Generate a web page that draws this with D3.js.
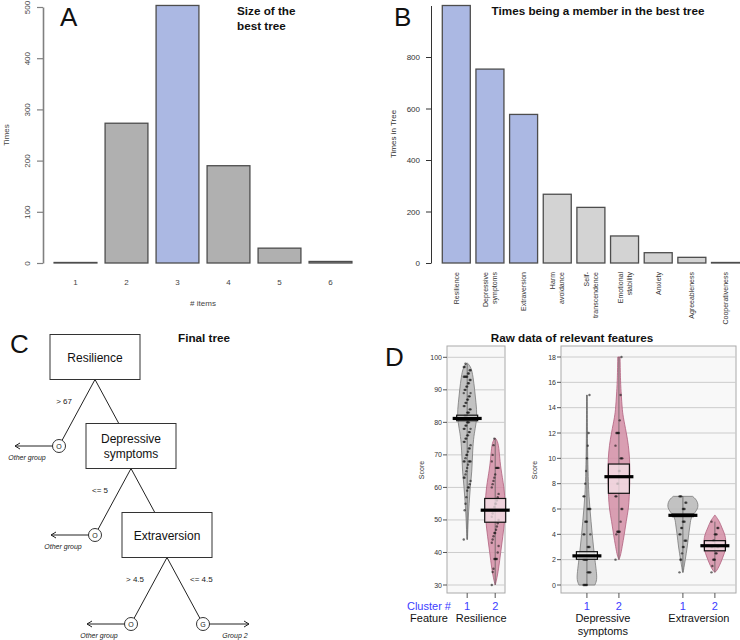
<!DOCTYPE html>
<html><head><meta charset="utf-8">
<script src="https://cdn.jsdelivr.net/npm/d3@7"></script>
<style>body{margin:0;background:#fff}svg{display:block;font-family:"Liberation Sans",Arial,sans-serif}</style>
</head><body><svg id="c" width="740" height="640"></svg>
<script>
// ---------- DATA ----------
// Panel A
const sizeItems = ["1","2","3","4","5","6"];
const sizeTimes = [1, 273, 503, 190, 29, 3];
const sizeBest = "3";
const sizeTicks = [0, 100, 200, 300, 400, 500];
// Panel B
const featLabels = [["Resilience"],["Depressive","symptoms"],["Extraversion"],["Harm","avoidance"],["Self-","transcendence"],["Emotional","stability"],["Anxiety"],["Agreeableness"],["Cooperativeness"]];
const featTimes = [1000, 753, 577, 267, 216, 105, 40, 22, 2];
const featSelected = [true, true, true, false, false, false, false, false, false];
const featTicks = [0, 200, 400, 600, 800];
// Panel C
const treeNodes = [["Resilience"],["Depressive","symptoms"],["Extraversion"]];
const treeLeftSplit = ["> 67", "<= 5", "> 4.5"];
const treeRightSplit = ["", "", "<= 4.5"];
const leafCodes = ["O", "O", "O", "G"];
const leafLabels = ["Other group", "Other group", "Other group", "Group 2"];
// Panel D
const clusterNames = ["1", "2"];
const resTicks = [30, 40, 50, 60, 70, 80, 90, 100];
const subTicks = [0, 2, 4, 6, 8, 10, 12, 14, 16, 18];
// densities: [value, relative width]
const res1Dens = [[44,0.02],[50,0.06],[55,0.12],[60,0.19],[65,0.3],[70,0.33],[75,0.39],[78,0.5],[82,0.63],[86,0.55],[90,0.47],[94,0.37],[97,0.25],[98.3,0]];
const res2Dens = [[30,0],[31,0.06],[35,0.22],[40,0.34],[45,0.48],[50,0.6],[55,0.63],[60,0.56],[66,0.34],[70,0.27],[74,0.19],[75.2,0]];
const dep1Dens = [[0,0.5],[0.4,0.63],[1,0.6],[2,0.5],[3,0.41],[4,0.33],[5,0.26],[6,0.19],[7,0.13],[8,0.09],[10,0.05],[12,0.03],[15,0.02]];
const dep2Dens = [[2,0],[2.3,0.1],[3,0.2],[4,0.34],[5,0.45],[6,0.6],[7,0.65],[8,0.68],[9,0.69],[10,0.67],[11,0.6],[12,0.47],[13.3,0.26],[14,0.2],[15,0.15],[16,0.1],[18,0.07]];
const ext1Dens = [[1,0.02],[1.5,0.08],[2,0.15],[2.5,0.21],[3,0.27],[3.5,0.32],[4,0.36],[4.5,0.42],[5,0.47],[5.2,0.5],[5.5,0.6],[5.7,0.75],[6,0.9],[6.2,0.95],[6.5,0.93],[6.8,0.8],[7,0.6]];
const ext2Dens = [[1,0],[1.1,0.1],[1.5,0.28],[2,0.44],[2.5,0.6],[3,0.69],[3.5,0.69],[4,0.63],[4.5,0.44],[5,0.3],[5.5,0.02]];
// raw points
const res1Pts = [44,53,55,57,59,60,60,61,62,63,63,64,65,66,67,68,68,68,68,68,69,70,70,71,72,72,73,74,74,75,75,76,76,77,77,78,78,78,79,79,80,80,80,81,81,81,82,82,82,83,83,83,84,84,85,85,86,86,87,87,88,88,89,89,90,90,91,91,92,92,93,93,94,94,94,94,94,95,95,96,96,97,97,98];
const res2Pts = [30,34,35,38,38,38,38,40,42,43,44,45,46,46,47,48,49,50,51,52,53,54,55,55,56,57,58,60,61,62,63,64,66,66,66,66,68,70,73,75];
const dep1Pts = [0,0,0,0,0,1,1,1,1,2,2,2,2,2,3,3,3,4,4,4,5,5,5,6,6,6,6,7,7,8,9,10,11,12,15];
const dep2Pts = [2,4,4.2,4.2,4.2,4.2,5,6,6,7,7,8,8,9,9,10,10,10,11,12,12,12,12,13,15,18];
const ext1Pts = [1,2,2,2.5,3,3,3.5,3.5,3.5,4,4,4.5,4.5,5,5,5,5.5,5.5,5.5,5.5,5.5,5.5,6,6,6,6.5,6.5,7,7,7];
const ext2Pts = [1,1.5,2,2,2,2.5,2.5,3,3,3,3,3.5,3.5,4,4,4,4.5,4.5,5];
// medians and inference bands
const medians = [81.2, 53, 2.3, 8.55, 5.5, 3.1];
const bandLo = [80.5, 49.3, 2.03, 7.24, 5.4, 2.7];
const bandHi = [82.2, 56.6, 2.63, 9.55, 5.6, 3.5];

// ---------- DRAW ----------
const svg = d3.select("#c");
svg.append("rect").attr("width",740).attr("height",640).attr("fill","#fff");
const letter = (x,y,t)=>svg.append("text").attr("x",x).attr("y",y).attr("font-size",26).attr("fill","#111").text(t);
const bold = (x,y,t,anchor)=>svg.append("text").attr("x",x).attr("y",y).attr("font-size",11.7).attr("font-weight","bold").attr("text-anchor",anchor||"middle").attr("fill","#111").text(t);

// ===== Panel A =====
const xA = d3.scaleBand().domain(sizeItems).range([50,356]).paddingInner(0.16).paddingOuter(0.08);
const yA = d3.scaleLinear().domain([0,500]).range([263,7]);
const gA = svg.append("g");
gA.selectAll("rect").data(sizeItems).join("rect")
  .attr("x",d=>xA(d)).attr("y",(d,i)=>yA(sizeTimes[i]))
  .attr("width",xA.bandwidth()).attr("height",(d,i)=>yA(0)-yA(sizeTimes[i]))
  .attr("fill",d=>d===sizeBest?"#abb8e3":"#b0b0b0").attr("stroke","#4d4d4d").attr("stroke-width",1.3);
const axA = gA.append("g").attr("transform","translate(43,0)")
  .call(d3.axisLeft(yA).tickValues(sizeTicks).tickSize(6).tickSizeOuter(0).tickFormat(d3.format("d")));
axA.attr("font-family",null).attr("font-size",null);
axA.select(".domain").attr("stroke","#808080").attr("stroke-width",1.6);
axA.selectAll(".tick line").attr("stroke","#808080").attr("stroke-width",1.2);
axA.selectAll(".tick text").attr("x",null).attr("dy",null)
  .attr("transform","translate(-13,0) rotate(-90)").attr("text-anchor","middle")
  .attr("font-size",8).attr("fill","#444");
gA.selectAll(".xl").data(sizeItems).join("text").attr("class","xl")
  .attr("x",d=>xA(d)+xA.bandwidth()/2).attr("y",285).attr("text-anchor","middle")
  .attr("font-size",8).attr("fill","#444").text(d=>d);
gA.append("text").attr("x",203).attr("y",306).attr("text-anchor","middle").attr("font-size",8).attr("fill","#444").text("# items");
gA.append("text").attr("transform","translate(9,135) rotate(-90)").attr("text-anchor","middle").attr("font-size",8).attr("fill","#444").text("Times");
letter(60,26,"A");
bold(237,15,"Size of the","start");
bold(237,30,"best tree","start");

// ===== Panel B =====
const featIdx = d3.range(featTimes.length);
const xB = d3.scaleBand().domain(featIdx).range([439.6,742.2]).paddingInner(0.168).paddingOuter(0.08);
const yB = d3.scaleLinear().domain([0,1000]).range([263,5.5]);
const gB = svg.append("g");
gB.selectAll("rect").data(featIdx).join("rect")
  .attr("x",d=>xB(d)).attr("y",d=>yB(featTimes[d]))
  .attr("width",xB.bandwidth()).attr("height",d=>yB(0)-yB(featTimes[d]))
  .attr("fill",d=>featSelected[d]?"#abb8e3":"#d3d3d3").attr("stroke","#4d4d4d").attr("stroke-width",1.3);
const axB = gB.append("g").attr("transform","translate(431,0)")
  .call(d3.axisLeft(yB).tickValues(featTicks).tickSize(5).tickSizeOuter(0).tickFormat(d3.format("d")));
axB.attr("font-family",null).attr("font-size",null);
axB.select(".domain").attr("stroke","#333").attr("stroke-width",1);
axB.selectAll(".tick line").attr("stroke","#333");
axB.selectAll(".tick text").attr("x",-11).attr("font-size",8).attr("fill","#333");
gB.append("text").attr("transform","translate(396,134) rotate(-90)").attr("text-anchor","middle").attr("font-size",8).attr("fill","#333").text("Times in Tree");
featIdx.forEach(i=>{
  const lines = featLabels[i], n = lines.length, xc = xB(i)+xB.bandwidth()/2;
  lines.forEach((t,j)=>{
    gB.append("text").attr("transform",`translate(${xc+(j-(n-1)/2)*9+2.5},272) rotate(-90)`)
      .attr("text-anchor","end").attr("font-size",7).attr("fill","#333").text(t);
  });
});
letter(394,26,"B");
bold(598,15,"Times being a member in the best tree");

// ===== Panel C =====
const tx = d3.scaleLinear().domain([0,1]).range([95,131]);
const ty = d3.scaleLinear().domain([0,1]).range([357,446]);
const BW = 90, BH = 45, CR = 6.5;
const gC = svg.append("g");
const edge = (x1,y1,x2,y2)=>gC.append("line").attr("x1",x1).attr("y1",y1).attr("x2",x2).attr("y2",y2).attr("stroke","#222").attr("stroke-width",1);
const toCircle = (x1,y1,x2,y2)=>{const dx=x2-x1,dy=y2-y1,L=Math.hypot(dx,dy);edge(x1,y1,x2-dx/L*CR,y2-dy/L*CR);};
const leafPos = [];
treeNodes.forEach((lines,i)=>{
  const cx = tx(i), cy = ty(i), bx = cx, by = cy+BH/2;
  const lx = tx(i-1), ly = ty(i+1);
  toCircle(bx,by,lx,ly);
  leafPos.push([lx,ly,"left"]);
  gC.append("text").attr("x",(bx+lx)/2-5).attr("y",(by+ly)/2-9).attr("text-anchor","end").attr("font-size",8).attr("fill","#222").text(treeLeftSplit[i]);
  const rx = tx(i+1), ry = ty(i+1);
  if (i < treeNodes.length-1) {
    const topY = ry-BH/2, t = (topY-by)/(ry-by);
    edge(bx,by,bx+t*(rx-bx),topY);
  } else {
    toCircle(bx,by,rx,ry);
    leafPos.push([rx,ry,"right"]);
  }
  if (treeRightSplit[i]) gC.append("text").attr("x",(bx+rx)/2+5).attr("y",(by+ry)/2-9).attr("font-size",8).attr("fill","#222").text(treeRightSplit[i]);
  gC.append("rect").attr("x",cx-BW/2).attr("y",cy-BH/2).attr("width",BW).attr("height",BH).attr("fill","#fff").attr("stroke","#333").attr("stroke-width",1);
  const n = lines.length;
  lines.forEach((t,j)=>gC.append("text").attr("x",cx).attr("y",cy+(j-(n-1)/2)*15+4.5).attr("text-anchor","middle").attr("font-size",12).attr("fill","#111").text(t));
});
leafPos.forEach(([x,y,side],k)=>{
  gC.append("circle").attr("cx",x).attr("cy",y).attr("r",CR).attr("fill","#fff").attr("stroke","#333").attr("stroke-width",1);
  gC.append("text").attr("x",x).attr("y",y+2.5).attr("text-anchor","middle").attr("font-size",7).attr("fill","#222").text(leafCodes[k]);
  const s = side==="left"?-1:1, end = x + s*(side==="left"?44:46);
  edge(x+s*CR,y,end,y);
  gC.append("path").attr("d",`M${end-s*5},${y-3}L${end},${y}L${end-s*5},${y+3}`).attr("fill","none").attr("stroke","#222").attr("stroke-width",1);
  gC.append("text").attr("x",x+s*32).attr("y",y+13.5).attr("text-anchor","middle").attr("font-size",7).attr("font-style","italic").attr("fill","#222").text(leafLabels[k]);
});
letter(10,353,"C");
bold(204,342,"Final tree");

// ===== Panel D =====
const gD = svg.append("g");
const yL = d3.scaleLinear().domain([30,100]).range([585,357.3]);
const yR = d3.scaleLinear().domain([0,18]).range([585,357]);
const xL = d3.scaleLinear().domain([0.28,2.35]).range([447,505]);
const xR = d3.scaleLinear().domain([0.19,5.66]).range([561,736]);
const wS = d3.scaleLinear().domain([0,1]).range([0,16]);
const PT = 346, PB = 593;
function panel(xs, ys, ticks, labX) {
  const [x0,x1] = xs.range();
  gD.append("rect").attr("x",x0).attr("y",PT).attr("width",x1-x0).attr("height",PB-PT).attr("fill","#f8f8f8").attr("stroke","#aaa").attr("stroke-width",1);
  ticks.forEach(t=>{
    gD.append("line").attr("x1",x0).attr("x2",x1).attr("y1",ys(t)).attr("y2",ys(t)).attr("stroke","#cccccc").attr("stroke-width",1);
    gD.append("line").attr("x1",x0-4).attr("x2",x0).attr("y1",ys(t)).attr("y2",ys(t)).attr("stroke","#555");
    gD.append("text").attr("x",x0-5).attr("y",ys(t)+2.5).attr("text-anchor","end").attr("font-size",7).attr("fill","#333").text(t);
  });
  gD.append("text").attr("transform",`translate(${labX},470) rotate(-90)`).attr("text-anchor","middle").attr("font-size",7).attr("fill","#333").text("Score");
}
panel(xL, yL, resTicks, 424);
panel(xR, yR, subTicks, 537);
const beans = [
  {xs:xL, ys:yL, pos:1, dens:res1Dens, pts:res1Pts, k:0, c:1},
  {xs:xL, ys:yL, pos:2, dens:res2Dens, pts:res2Pts, k:1, c:2},
  {xs:xR, ys:yR, pos:1, dens:dep1Dens, pts:dep1Pts, k:2, c:1},
  {xs:xR, ys:yR, pos:2, dens:dep2Dens, pts:dep2Pts, k:3, c:2},
  {xs:xR, ys:yR, pos:4, dens:ext1Dens, pts:ext1Pts, k:4, c:1},
  {xs:xR, ys:yR, pos:5, dens:ext2Dens, pts:ext2Pts, k:5, c:2}
];
beans.forEach(b=>{
  const cx = b.xs(b.pos), ys = b.ys;
  const area = d3.area().y(d=>ys(d[0])).x0(d=>cx-wS(d[1])).x1(d=>cx+wS(d[1])).curve(d3.curveBasis);
  gD.append("path").attr("d",area(b.dens))
    .attr("fill",b.c===1?"#b8b8b8":"#d48ea6").attr("fill-opacity",0.85)
    .attr("stroke",b.c===1?"#7a7a7a":"#b0607e").attr("stroke-width",0.8);
  const ext = d3.extent(b.pts);
  gD.append("line").attr("x1",cx).attr("x2",cx).attr("y1",ys(ext[0])).attr("y2",ys(ext[1])).attr("stroke","#555").attr("stroke-width",0.7);
  b.pts.forEach((v,i)=>{
    gD.append("circle").attr("cx",cx+((i*37)%9-4)*0.85).attr("cy",ys(v)).attr("r",1.2).attr("fill","#111").attr("fill-opacity",0.6);
  });
  gD.append("rect").attr("x",cx-10.5).attr("y",ys(bandHi[b.k])).attr("width",21).attr("height",ys(bandLo[b.k])-ys(bandHi[b.k]))
    .attr("fill",b.c===1?"#f4f4f4":"#f6e4ea").attr("fill-opacity",0.75).attr("stroke","#111").attr("stroke-width",1.2);
  gD.append("line").attr("x1",cx-14.5).attr("x2",cx+14.5).attr("y1",ys(medians[b.k])).attr("y2",ys(medians[b.k])).attr("stroke","#000").attr("stroke-width",3.2);
  gD.append("line").attr("x1",cx).attr("x2",cx).attr("y1",PB).attr("y2",PB+5).attr("stroke","#555");
  gD.append("text").attr("x",cx).attr("y",610).attr("text-anchor","middle").attr("font-size",11).attr("fill","#3c3cff").text(clusterNames[b.c-1]);
});
gD.append("text").attr("x",451).attr("y",610).attr("text-anchor","end").attr("font-size",11).attr("fill","#3c3cff").text("Cluster #");
gD.append("text").attr("x",448).attr("y",622).attr("text-anchor","end").attr("font-size",11).attr("fill","#111").text("Feature");
gD.append("text").attr("x",(xL(1)+xL(2))/2).attr("y",622).attr("text-anchor","middle").attr("font-size",11).attr("fill","#111").text("Resilience");
gD.append("text").attr("x",(xR(1)+xR(2))/2).attr("y",622).attr("text-anchor","middle").attr("font-size",11).attr("fill","#111").text("Depressive");
gD.append("text").attr("x",(xR(1)+xR(2))/2).attr("y",635).attr("text-anchor","middle").attr("font-size",11).attr("fill","#111").text("symptoms");
gD.append("text").attr("x",(xR(4)+xR(5))/2).attr("y",622).attr("text-anchor","middle").attr("font-size",11).attr("fill","#111").text("Extraversion");
letter(385,366,"D");
bold(572,342,"Raw data of relevant features");
</script></body></html>
